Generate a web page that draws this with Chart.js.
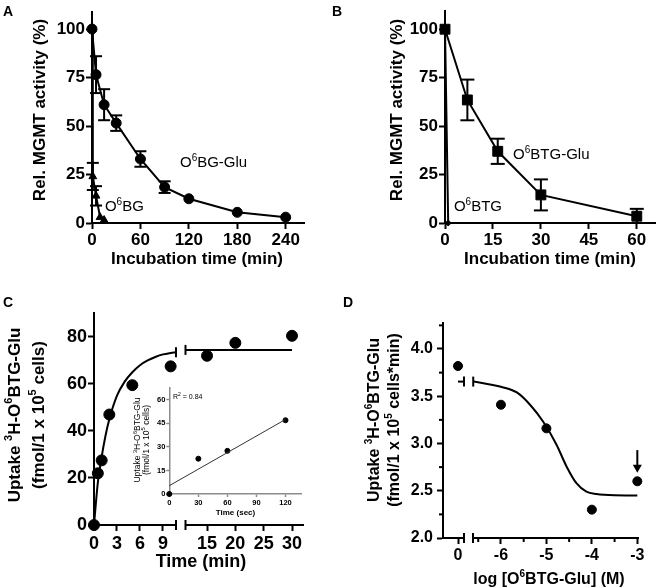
<!DOCTYPE html>
<html>
<head>
<meta charset="utf-8">
<script src="https://cdn.jsdelivr.net/npm/chart.js@4.4.0/dist/chart.umd.min.js"></script>
<style>
  html, body { margin: 0; padding: 0; background: #fff; }
  #fig { position: relative; width: 660px; height: 588px; overflow: hidden; background: #fff; }
  #fig canvas { position: absolute; }
  .tag { position: absolute; font: bold 14px 'Liberation Sans', Arial, sans-serif; line-height: 14px; color: #000; }
</style>
</head>
<body>
<div id="fig">
  <canvas id="panelA" width="330" height="290" style="left:0;top:0"></canvas>
  <canvas id="panelB" width="330" height="290" style="left:330px;top:0"></canvas>
  <canvas id="panelC1" width="330" height="298" style="left:0;top:290px"></canvas>
  <canvas id="panelC2" width="330" height="298" style="left:0;top:290px"></canvas>
  <canvas id="insetC" width="185" height="140" style="left:125px;top:380px"></canvas>
  <canvas id="panelD1" width="330" height="298" style="left:330px;top:290px"></canvas>
  <canvas id="panelD2" width="330" height="298" style="left:330px;top:290px"></canvas>
  <div class="tag" style="left:3px;top:4px">A</div>
  <div class="tag" style="left:332px;top:4px">B</div>
  <div class="tag" style="left:3px;top:295px">C</div>
  <div class="tag" style="left:343px;top:295px">D</div>
</div>
<script>
const FONT = "'Liberation Sans', Arial, sans-serif";

// A: MGMT activity vs time
const aGluTime = [0, 5, 15, 30, 60, 90, 120, 180, 240];
const aGluAct = [100, 76.5, 61, 51.5, 33, 18.5, 12.5, 5.5, 3];
const aGluErr = [0, 9.5, 8, 4, 4, 3, 0, 0, 0];
const aBgTime = [0, 1, 5, 10, 15];
const aBgAct = [100, 24, 14, 3, 1.5];
const aBgErr = [0, 7, 5, 0, 0];
const aTicksX = [0, 60, 120, 180, 240];
const aTicksY = [0, 25, 50, 75, 100];

// B
const bGluTime = [0, 7, 16.5, 30, 60];
const bGluAct = [100, 63.5, 37, 14.5, 3.5];
const bGluErr = [0, 10.5, 6.5, 8, 3.8];
const bBtgTime = [0, 1];
const bBtgAct = [100, 0];
const bTicksX = [0, 15, 30, 45, 60];
const bTicksY = [0, 25, 50, 75, 100];

// C: uptake, broken time axis
const cTimeEarly = [0, 0.5, 1, 2, 5, 10];
const cUptakeEarly = [0, 22, 27.5, 47, 59.5, 67.5];
const cTimeLate = [15, 20, 30];
const cUptakeLate = [72, 77.5, 80.5];
const cFitTimeEarly = [0, 0.5, 1, 1.5, 2, 3, 4, 5, 6, 7, 8, 9, 10, 10.7];
const cFitEarly = [0, 18, 29, 38, 45, 55, 61, 65, 68, 70, 71.5, 72.6, 73.2, 73.5];
const cFitTimeLate = [11.2, 30];
const cFitLate = [74.5, 74.5];
const cTicksXEarly = [0, 3, 6, 9];
const cTicksXLate = [15, 20, 25, 30];
const cTicksY = [0, 20, 40, 60, 80];

// C inset
const insetSec = [0, 30, 60, 120];
const insetUptake = [0, 22.5, 27.5, 47];
const insetFitSec = [0, 120];
const insetFit = [5.3, 47.5];
const insetTicksX = [0, 30, 60, 90, 120];
const insetTicksY = [0, 15, 30, 45, 60];

// D: uptake vs log concentration
const dCtrlLog = [0];
const dCtrlUptake = [3.82];
const dLog = [-6, -5, -4, -3];
const dUptake = [3.41, 3.16, 2.30, 2.60];
const dFitCtrlLog = [0, 0.4];
const dFitCtrl = [3.655, 3.655];
const dFitLog = [-6.61, -6.3, -6, -5.65, -5.36, -5.07, -4.78, -4.56, -4.34, -4.12, -3.9, -3.5, -3];
const dFit = [3.655, 3.63, 3.60, 3.54, 3.41, 3.23, 2.99, 2.76, 2.58, 2.49, 2.465, 2.452, 2.45];
const dTicksXLeft = [0];
const dTicksXRight = [-6, -5, -4, -3];
const dMinorX = [-6.5, -5.5, -4.5, -3.5];
const dTicksY = [2.0, 2.5, 3.0, 3.5, 4.0];
const dMinorY = [2.25, 2.75, 3.25, 3.75, 4.25];
const dArrow = { x: -3, from: 2.93, to: 2.69 };

// text with ^superscript^ parts
function drawRich(ctx, text, x, y, o) {
  const parts = text.split('^');
  const w8 = o.weight || 'normal';
  const big = `${w8} ${o.size}px ${FONT}`;
  const small = `${w8} ${Math.round(o.size * 0.65)}px ${FONT}`;
  ctx.save();
  ctx.translate(x, y);
  if (o.rotate) ctx.rotate(o.rotate);
  ctx.fillStyle = o.color || '#000';
  ctx.textBaseline = 'middle';
  ctx.textAlign = 'left';
  let w = 0;
  parts.forEach((p, i) => { ctx.font = i % 2 ? small : big; w += ctx.measureText(p).width; });
  let cx = o.align === 'center' ? -w / 2 : 0;
  parts.forEach((p, i) => {
    ctx.font = i % 2 ? small : big;
    ctx.fillText(p, cx, i % 2 ? -o.size * 0.33 : 0);
    cx += ctx.measureText(p).width;
  });
  ctx.restore();
}

const UP = -Math.PI / 2;

const extras = {
  id: 'extras',
  afterDraw(chart, args, o) {
    const ctx = chart.ctx, a = chart.chartArea, xs = chart.scales.x, ys = chart.scales.y;
    const seg = (x1, y1, x2, y2) => { ctx.beginPath(); ctx.moveTo(x1, y1); ctx.lineTo(x2, y2); ctx.stroke(); };
    ctx.save();
    ctx.strokeStyle = '#000';
    ctx.fillStyle = '#000';
    ctx.lineWidth = 2;
    chart.data.datasets.forEach((ds, i) => {
      const pts = chart.getDatasetMeta(i).data;
      (ds.errors || []).forEach((e, j) => {
        if (!e) return;
        const v = ds.data[j].y, px = pts[j].x, c = o.cap || 6;
        const t = ys.getPixelForValue(v + e), b = ys.getPixelForValue(Math.max(v - e, ys.min));
        seg(px, t, px, b); seg(px - c, t, px + c, t); seg(px - c, b, px + c, b);
      });
      if (ds.breakCap) {
        const p = ds.breakCap === 'end' ? pts[pts.length - 1] : pts[0];
        seg(p.x, p.y - 5, p.x, p.y + 5);
      }
    });
    if (o.axisBreak) {
      const x = o.axisBreak === 'right' ? a.right : a.left;
      seg(x, a.bottom - 5, x, a.bottom + 5);
    }
    (o.minorX || []).forEach(v => { const x = xs.getPixelForValue(v); seg(x, a.bottom, x, a.bottom + 4); });
    (o.minorY || []).forEach(v => { const y = ys.getPixelForValue(v); seg(a.left - 4, y, a.left, y); });
    if (o.arrow) {
      const ax = xs.getPixelForValue(o.arrow.x);
      const y1 = ys.getPixelForValue(o.arrow.from), y2 = ys.getPixelForValue(o.arrow.to);
      seg(ax, y1, ax, y2 - 6);
      ctx.beginPath();
      ctx.moveTo(ax - 4.5, y2 - 8); ctx.lineTo(ax + 4.5, y2 - 8); ctx.lineTo(ax, y2);
      ctx.closePath(); ctx.fill();
    }
    (o.notes || []).forEach(n => drawRich(ctx, n.text, xs.getPixelForValue(n.x), ys.getPixelForValue(n.y), n));
    (o.texts || []).forEach(t => drawRich(ctx, t.text, t.px, t.py, t));
    ctx.restore();
  }
};

function axis(o) {
  const c = o.color || '#000';
  return {
    type: 'linear', display: o.display !== false, min: o.min, max: o.max,
    border: { display: true, color: c, width: o.lw || 2 },
    grid: { display: true, drawOnChartArea: false, drawTicks: true, tickLength: o.tl || 6, color: c, tickColor: c, tickWidth: o.lw || 2 },
    ticks: {
      autoSkip: false, maxRotation: 0, padding: o.pad || 0, color: '#000',
      font: { family: FONT, size: o.font || 12, weight: o.weight || 'bold' },
      callback: o.fmt || (v => String(v))
    },
    title: { display: false },
    afterBuildTicks: s => { s.ticks = (o.ticks || []).map(v => ({ value: v })); },
    afterFit: s => {
      if (o.size === undefined) return;
      if (s.isHorizontal()) s.height = o.size; else s.width = o.size;
    }
  };
}

function series(xv, yv, o) {
  return Object.assign({
    data: xv.map((v, i) => ({ x: v, y: yv[i] })),
    showLine: true, borderColor: '#000', backgroundColor: '#000', borderWidth: 2,
    pointRadius: 0, pointStyle: 'circle', pointBorderWidth: 1, tension: 0, clip: false
  }, o);
}

function panel(id, datasets, x, y, pad, extra) {
  return new Chart(document.getElementById(id), {
    type: 'scatter',
    data: { datasets },
    options: {
      responsive: false, animation: false, events: [],
      layout: { padding: pad, autoPadding: false },
      plugins: { legend: { display: false }, tooltip: { enabled: false }, extras: extra || {} },
      scales: { x, y }
    },
    plugins: [extras]
  });
}

// Panel A
panel('panelA', [
  series(aGluTime, aGluAct, { pointRadius: 5, errors: aGluErr }),
  series(aBgTime, aBgAct, { pointRadius: 4.5, pointStyle: 'triangle', errors: aBgErr })
],
  axis({ min: 0, max: 262.7, ticks: aTicksX, size: 67, font: 17, pad: 1 }),
  axis({ min: 0, max: 108.8, ticks: aTicksY, size: 92, font: 17, pad: 1 }),
  { left: 0, right: 26, top: 12, bottom: 0 },
  { notes: [
    { text: 'O^6^BG-Glu', x: 109, y: 31, size: 15 },
    { text: 'O^6^BG', x: 16, y: 8.2, size: 15 }
  ], texts: [
    { text: 'Rel. MGMT activity (%)', px: 40, py: 110, size: 17, weight: 'bold', rotate: UP, align: 'center' },
    { text: 'Incubation time (min)', px: 197, py: 259, size: 17, weight: 'bold', align: 'center' }
  ] }
);

// Panel B
panel('panelB', [
  series(bGluTime, bGluAct, { pointRadius: 7, pointStyle: 'rect', errors: bGluErr }),
  series(bBtgTime, bBtgAct, { pointRadius: [0, 3], pointStyle: 'rectRot' })
],
  axis({ min: 0, max: 65.7, ticks: bTicksX, size: 67, font: 17, pad: 1 }),
  axis({ min: 0, max: 109.3, ticks: bTicksY, size: 115, font: 17, pad: 1 }),
  { left: 0, right: 5, top: 11, bottom: 0 },
  { cap: 7, notes: [
    { text: 'O^6^BTG-Glu', x: 21.3, y: 35, size: 15 },
    { text: 'O^6^BTG', x: 2.8, y: 8.2, size: 15 }
  ], texts: [
    { text: 'Rel. MGMT activity (%)', px: 67, py: 110, size: 17, weight: 'bold', rotate: UP, align: 'center' },
    { text: 'Incubation time (min)', px: 220, py: 259, size: 17, weight: 'bold', align: 'center' }
  ] }
);

// Panel C, left piece of the broken axis
panel('panelC1', [
  series(cFitTimeEarly, cFitEarly, { cubicInterpolationMode: 'monotone', breakCap: 'end' }),
  series(cTimeEarly, cUptakeEarly, { showLine: false, pointRadius: 5.5 })
],
  axis({ min: 0, max: 10.7, ticks: cTicksXEarly, size: 63, font: 18, pad: 2 }),
  axis({ min: 0, max: 90.2, ticks: cTicksY, size: 94, font: 18, pad: 1 }),
  { left: 0, right: 154, top: 23, bottom: 0 },
  { axisBreak: 'right', texts: [
    { text: 'Uptake ^3^H-O^6^BTG-Glu', px: 15, py: 125, size: 17, weight: 'bold', rotate: UP, align: 'center' },
    { text: '(fmol/1 x 10^5^ cells)', px: 39, py: 125, size: 17, weight: 'bold', rotate: UP, align: 'center' },
    { text: 'Time (min)', px: 201, py: 272, size: 18, weight: 'bold', align: 'center' }
  ] }
);

// Panel C, right piece
panel('panelC2', [
  series(cFitTimeLate, cFitLate, { breakCap: 'start' }),
  series(cTimeLate, cUptakeLate, { showLine: false, pointRadius: 5.5 })
],
  axis({ min: 11.2, max: 31.94, ticks: cTicksXLate, size: 63, font: 18, pad: 2 }),
  axis({ display: false, min: 0, max: 90.2 }),
  { left: 185.5, right: 27, top: 23, bottom: 0 },
  { axisBreak: 'left' }
);

// Panel C inset
panel('insetC', [
  series(insetFitSec, insetFit, { borderWidth: 1, borderColor: '#333' }),
  series(insetSec, insetUptake, { showLine: false, pointRadius: 2.5 })
],
  axis({ min: 0, max: 136, ticks: insetTicksX, size: 26, font: 7.5, pad: 1, tl: 3, lw: 1.5, color: '#8c8c8c' }),
  axis({ min: 0, max: 68, ticks: insetTicksY, size: 44.3, font: 7.5, pad: 1, tl: 3, lw: 1.5, color: '#8c8c8c' }),
  { left: 0, right: 9, top: 7.3, bottom: 0 },
  { texts: [
    { text: 'R^2^ = 0.84', px: 48, py: 17, size: 7 },
    { text: 'Uptake ^3^H-O^6^BTG-Glu', px: 13, py: 60, size: 8.5, rotate: UP, align: 'center' },
    { text: '(fmol/1 x 10^5^ cells)', px: 21.5, py: 60, size: 8.5, rotate: UP, align: 'center' },
    { text: 'Time (sec)', px: 110.5, py: 133, size: 8, weight: 'bold', align: 'center' }
  ] }
);

// Panel D, control piece
panel('panelD1', [
  series(dFitCtrlLog, dFitCtrl, { breakCap: 'end' }),
  series(dCtrlLog, dCtrlUptake, { showLine: false, pointRadius: 4.5 })
],
  axis({ min: -1, max: 0.4, ticks: dTicksXLeft, size: 50, font: 16, pad: 2 }),
  axis({ min: 2, max: 4.275, ticks: dTicksY, size: 113, font: 16, pad: 4, fmt: v => v.toFixed(1) }),
  { left: 0, right: 196, top: 33, bottom: 0 },
  { axisBreak: 'right', minorY: dMinorY, texts: [
    { text: 'Uptake ^3^H-O^6^BTG-Glu', px: 45, py: 130, size: 16, weight: 'bold', rotate: UP, align: 'center' },
    { text: '(fmol/1 x 10^5^ cells*min)', px: 65, py: 130, size: 16, weight: 'bold', rotate: UP, align: 'center' },
    { text: 'log [O^6^BTG-Glu] (M)', px: 219, py: 290, size: 16, weight: 'bold', align: 'center' }
  ] }
);

// Panel D, concentration piece
panel('panelD2', [
  series(dFitLog, dFit, { cubicInterpolationMode: 'monotone', breakCap: 'start' }),
  series(dLog, dUptake, { showLine: false, pointRadius: 4.5 })
],
  axis({ min: -6.615, max: -2.985, ticks: dTicksXRight, size: 50, font: 16, pad: 2 }),
  axis({ display: false, min: 2, max: 4.275 }),
  { left: 143, right: 22, top: 33, bottom: 0 },
  { axisBreak: 'left', minorX: dMinorX, arrow: dArrow }
);
</script>
</body>
</html>
